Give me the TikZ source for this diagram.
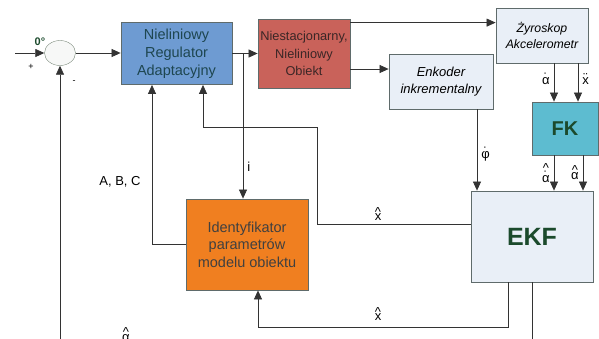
\documentclass[tikz,border=0pt]{standalone}
\usepackage{fontspec}
\setmainfont{Liberation Sans}
\usetikzlibrary{arrows.meta,shapes.geometric}

\definecolor{regblue}{HTML}{6E9BD2}
\definecolor{regtext}{HTML}{1E4650}
\definecolor{objred}{HTML}{C9625A}
\definecolor{objtext}{HTML}{3B2626}
\definecolor{paleblue}{HTML}{E9EFF7}
\definecolor{fkcyan}{HTML}{5DBCD0}
\definecolor{idorange}{HTML}{F07F20}
\definecolor{darkgreen}{HTML}{1B4A2C}
\definecolor{edgegray}{HTML}{5F6B6B}
\definecolor{sumedge}{HTML}{7D8C7D}

% znak nad symbolem (daszek, kropka)
\newcommand{\overmark}[3][-5pt]{\shortstack{#2\\[#1]#3}}

\begin{document}
\begin{tikzpicture}[x=1pt, y=-1pt,
    >={Triangle[length=9pt,width=8pt]},
    blok/.style={draw=edgegray, line width=0.8pt, inner sep=0pt, align=center},
    sig/.style={draw=black!80, line width=0.7pt},
    lbl/.style={inner sep=0pt, font=\fontsize{13}{13}\selectfont}]
  \useasboundingbox (0,0) rectangle (599,338);

  \node[ellipse, draw=sumedge, fill=green!2!gray!6, minimum width=31pt, minimum height=25pt] (sum) at (60,53) {};
  \node[blok, fill=regblue, text=regtext, minimum width=111pt, minimum height=62pt,
        font=\fontsize{14.5}{18}\selectfont] (reg) at (176.5,53.5) {Nieliniowy\\Regulator\\Adaptacyjny};
  \node[blok, fill=objred, text=objtext, minimum width=92pt, minimum height=69pt,
        font=\fontsize{12.8}{17.5}\selectfont] (obj) at (304,53.5) {Niestacjonarny,\\Nieliniowy\\Obiekt};
  \node[blok, fill=paleblue, minimum width=92pt, minimum height=55pt,
        font=\fontsize{12.3}{16.5}\selectfont\itshape] (gyro) at (542,35.5) {Żyroskop\\Akcelerometr};
  \node[blok, fill=paleblue, minimum width=104pt, minimum height=55pt,
        font=\fontsize{13}{17}\selectfont\itshape] (enc) at (441,81.5) {Enkoder\\inkrementalny};
  \node[blok, fill=fkcyan, text=darkgreen, minimum width=66pt, minimum height=53pt,
        font=\fontsize{20}{20}\selectfont\bfseries] (fk) at (565,128.5) {FK};
  \node[blok, fill=paleblue, text=darkgreen, minimum width=122pt, minimum height=91pt,
        font=\fontsize{25}{25}\selectfont\bfseries] (ekf) at (532,236.5) {EKF};
  \node[blok, fill=idorange, text=black!75, minimum width=122pt, minimum height=91pt,
        font=\fontsize{14.5}{17.5}\selectfont] (ident) at (247,244.5) {Identyfikator\\parametrów\\modelu obiektu};

  \node[font=\fontsize{11}{11}\selectfont\bfseries, text=darkgreen, inner sep=0pt] (zero) at (40,42) {0°};
  \node[font=\fontsize{9}{9}\selectfont, inner sep=0pt] (plus) at (31,67) {+};
  \node[font=\fontsize{9}{9}\selectfont, inner sep=0pt] (minus) at (74,82) {-};

  \coordinate (in) at (15,53);
  \coordinate (fb) at (60,345);
  \coordinate (br) at (243,53.5);
  \coordinate (o1) at ([yshift=-4pt]obj.north east);
  \coordinate (o2) at ([yshift=-15.5pt]obj.east);
  \coordinate (g1) at ([xshift=12pt]gyro.south);
  \coordinate (g2) at ([xshift=36pt]gyro.south);
  \coordinate (f1) at ([xshift=-11pt]fk.south);
  \coordinate (f2) at ([xshift=18pt]fk.south);
  \coordinate (e1) at ([xshift=36pt]enc.south);
  \coordinate (k1) at ([yshift=12.5pt]ekf.west);
  \coordinate (k2) at (317,127);
  \coordinate (k3) at ([xshift=-24pt]ekf.south);
  \coordinate (r1) at ([xshift=26.5pt]reg.south);
  \coordinate (r2) at ([xshift=-24.5pt]reg.south);
  \coordinate (i1) at ([xshift=11pt]ident.south);

  \draw[sig,->] (in) -- (sum);
  \draw[sig,->] (fb) -- (sum);
  \draw[sig,->] (sum.east) -- (sum.east -| reg.west);
  \draw[sig,->] (reg) -- (obj);
  \draw[sig,->] (br) -- (br |- ident.north) node[lbl, pos=0.78, right=4pt] {i};
  \draw[sig,->] (o1) -- (o1 -| gyro.west);
  \draw[sig,->] (o2) -- (o2 -| enc.west);
  \draw[sig,->] (g1) -- (g1 |- fk.north) node[lbl, pos=0.4, left=4pt] {\overmark[-8pt]{˙}{α}};
  \draw[sig,->] (g2) -- (g2 |- fk.north) node[lbl, pos=0.4, right=4pt] {\overmark[-8pt]{¨}{x}};
  \draw[sig,->] (f1) -- (f1 |- ekf.north) node[lbl, midway, left=4pt] {\overmark{\textasciicircum}{\overmark[-8pt]{˙}{α}}};
  \draw[sig,->] (f2) -- (f2 |- ekf.north) node[lbl, midway, left=4pt] {\overmark{\textasciicircum}{α}};
  \draw[sig,->] (e1) -- (e1 |- ekf.north) node[lbl, pos=0.55, right=4pt] {\overmark[-8pt]{˙}{φ}};
  \draw[sig,->] (k1) -| (k2) -| (r1);
  \draw[sig,->] (k3) -- ++(0,45) -| (i1);
  \draw[sig,->] (ident.west) -| (r2);
  \draw[sig] (ekf.south) -- ++(0,60);

  \node[lbl] (xh1) at (378,214) {\overmark{\textasciicircum}{x}};
  \node[lbl] (xh2) at (378,314) {\overmark{\textasciicircum}{x}};
  \node[lbl] (abc) at (120,182) {A, B, C};
  \node[lbl] (ah) at (126,335) {\overmark{\textasciicircum}{α}};
\end{tikzpicture}
\end{document}
